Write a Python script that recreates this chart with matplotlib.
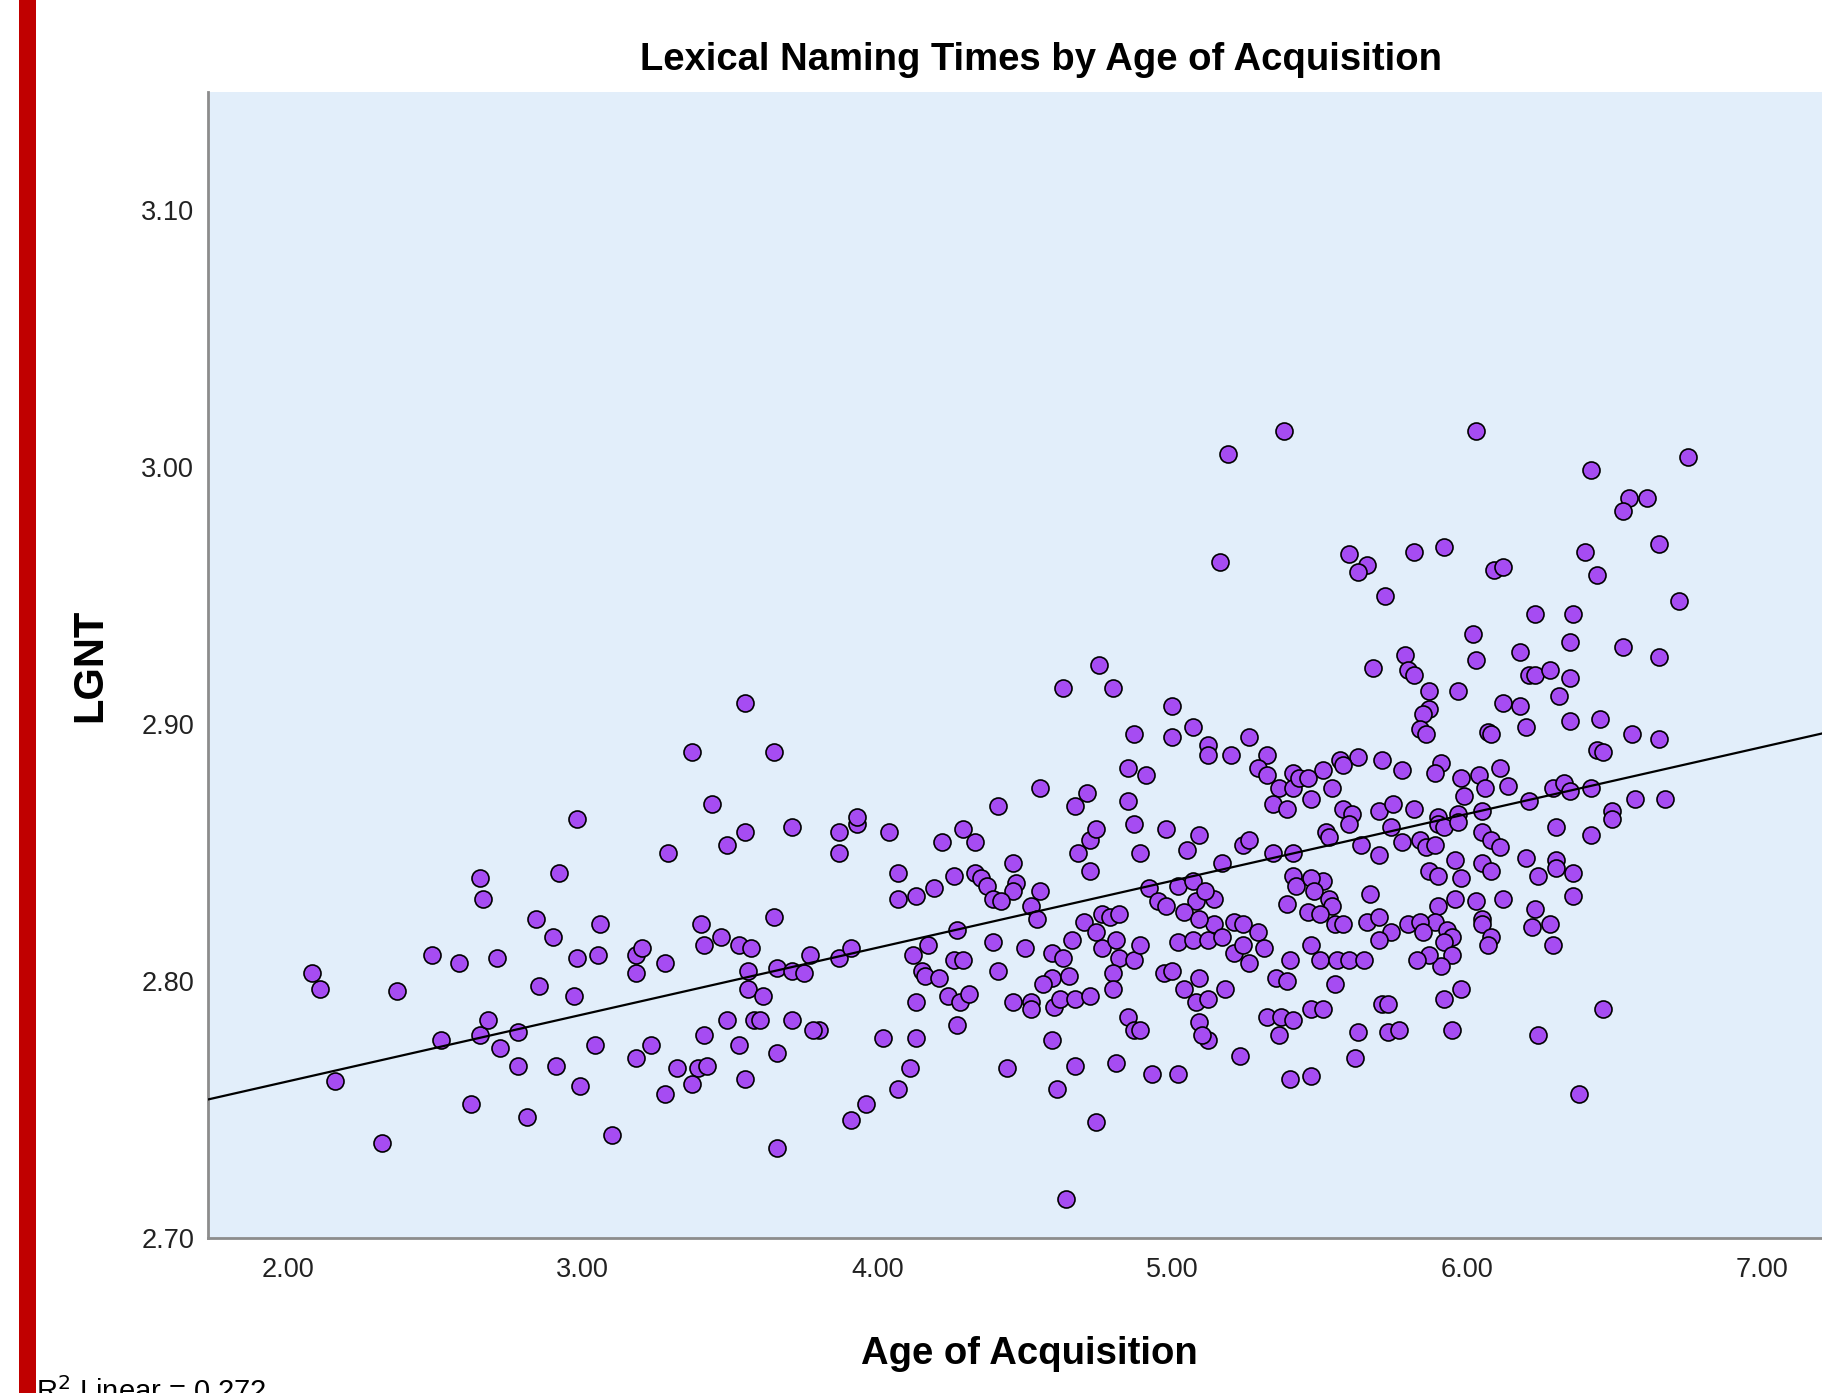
import numpy as np
import matplotlib
matplotlib.use("Agg")
from matplotlib import pyplot as plt
from matplotlib.patches import Rectangle

plt.rcParams['font.family'] = ['Liberation Sans', 'DejaVu Sans']

# age of acquisition (x) and log naming time (y)
aoa = [
    2.08, 2.11, 2.16, 2.32, 2.37, 2.49, 2.52, 2.58, 2.62, 2.65, 2.66, 2.65, 2.68, 2.71, 2.72,
    2.78, 2.78, 2.81, 2.84, 2.90, 2.85, 2.91, 2.92, 2.97, 2.98, 2.98, 2.99, 3.04, 3.05, 3.06,
    3.10, 3.18, 3.18, 3.20, 3.18, 3.23, 3.28, 3.28, 3.29, 3.32, 3.39, 3.37, 3.42, 3.40, 3.41,
    3.41, 3.47, 3.49, 3.55, 3.53, 3.57, 3.49, 3.53, 3.55, 3.56, 3.56, 3.61, 3.58, 3.60, 3.65,
    3.66, 3.71, 3.66, 3.66, 3.71, 3.71, 3.55, 3.37, 3.65, 3.44,
    # middle band
    3.87, 3.87, 3.93, 4.04, 4.22, 4.29, 4.33, 4.07, 4.07, 4.13, 4.19, 4.26, 4.33, 4.35, 4.37,
    4.46, 4.47, 4.46, 4.39, 4.42, 4.55, 4.52, 4.54, 4.68, 4.72, 4.74, 4.72, 4.87, 4.89, 4.98,
    5.09, 5.05, 5.24, 5.26, 5.34, 5.41, 4.92, 4.95, 4.98, 5.02, 5.07, 5.08, 5.04, 5.14, 5.11,
    5.17, 5.39, 5.41, 5.42, 4.70, 4.76, 4.79, 4.82, 3.77, 3.75, 3.87, 3.91, 4.17, 4.12, 4.15,
    4.16, 4.27, 4.21, 4.26, 4.29, 4.39, 4.41, 4.50, 4.59, 4.63, 4.66, 4.74, 4.76, 4.81, 4.82,
    4.87, 4.89, 5.02, 5.07, 5.12, 5.14, 5.17, 5.09, 5.21, 5.24, 5.29, 5.31, 5.21, 5.24, 5.26,
    5.40, 4.59, 4.56, 4.65, 4.80, 4.80, 4.97, 5.00, 5.35, 5.39, 5.04, 5.09, 5.08, 5.12, 5.18,
    4.13, 4.24, 4.28, 4.31, 4.27, 4.46, 4.52, 4.52, 4.60, 4.62, 4.67, 4.72, 4.85, 4.87, 4.89,
    5.09, 5.12, 5.10, 5.32, 5.37, 5.41, 5.36, 5.23, 5.40, 3.80, 3.78, 4.02, 4.13, 4.11, 4.07,
    3.96, 3.91, 4.44, 4.59, 4.61, 4.67, 4.81, 4.93, 5.02, 4.74, 4.64,
    5.38, 5.19, 5.16, 4.75, 4.63, 4.80, 5.00, 4.87, 5.00, 5.07, 5.12, 5.12, 5.20, 5.26, 5.32,
    5.29, 5.32, 5.36, 5.41, 5.41, 5.34, 5.39, 4.85, 4.91, 4.55, 4.71, 4.67, 4.85, 4.41, 3.93,
    # upper right
    6.03, 6.42, 6.75, 6.55, 6.61, 6.53, 6.65, 6.40, 6.44, 6.72, 5.60, 5.66, 5.63, 5.82, 5.92,
    6.09, 6.12, 5.72, 6.23, 6.36, 6.02, 6.35, 6.53, 6.65, 6.03, 6.18, 5.79, 5.80, 5.82, 5.68,
    5.97, 5.87, 5.87, 5.85, 6.21, 6.23, 6.28, 6.35, 6.31, 6.12, 6.18, 6.20, 5.84, 5.86, 6.07,
    6.08, 6.35, 6.45, 6.56, 6.65, 6.44, 6.46, 5.57, 5.63, 5.58, 5.71, 5.78, 5.51, 5.43, 5.46,
    5.54, 5.47, 5.91, 5.89, 5.98, 6.04, 6.06, 5.99, 6.11, 6.14, 6.29, 6.33, 6.35, 6.42, 6.21,
    6.49, 6.57, 6.67, 5.58, 5.61, 5.70, 5.75, 5.82, 5.90, 5.97, 6.05,
    # lower right
    5.52, 5.53, 5.60, 5.64, 5.70, 5.74, 5.78, 5.84, 5.86, 5.89, 5.90, 5.92, 5.97, 6.05, 6.08,
    6.11, 6.30, 6.42, 6.49, 5.96, 5.87, 5.90, 5.98, 6.05, 6.08, 6.20, 6.30, 6.30, 6.24, 6.36,
    6.36, 6.12, 5.96, 6.03, 6.05, 6.05, 6.08, 6.07, 6.23, 6.22, 6.28, 6.29, 5.90, 5.89, 5.93,
    5.95, 5.80, 5.84, 5.85, 5.92, 5.95, 5.91, 5.87, 5.83, 5.67, 5.66, 5.70, 5.74, 5.70, 5.51,
    5.47, 5.48, 5.53, 5.54, 5.46, 5.50, 5.55, 5.58, 5.47, 5.50, 5.56, 5.60, 5.65, 5.55, 5.47,
    5.51, 5.71, 5.73, 5.63, 5.62, 5.47, 5.73, 5.77, 5.92, 5.98, 5.95, 6.24, 6.46, 6.38,
]
lgnt = [
    2.803, 2.797, 2.761, 2.737, 2.796, 2.810, 2.777, 2.807, 2.752, 2.840, 2.832, 2.779, 2.785, 2.809, 2.774,
    2.780, 2.767, 2.747, 2.824, 2.817, 2.798, 2.767, 2.842, 2.794, 2.863, 2.809, 2.759, 2.775, 2.810, 2.822,
    2.740, 2.770, 2.810, 2.813, 2.803, 2.775, 2.807, 2.756, 2.850, 2.766, 2.766, 2.760, 2.767, 2.822, 2.814,
    2.779, 2.817, 2.853, 2.858, 2.814, 2.813, 2.785, 2.775, 2.762, 2.804, 2.797, 2.794, 2.785, 2.785, 2.825,
    2.805, 2.804, 2.772, 2.735, 2.785, 2.860, 2.908, 2.889, 2.889, 2.869,
    2.858, 2.850, 2.861, 2.858, 2.854, 2.859, 2.854, 2.842, 2.832, 2.833, 2.836, 2.841, 2.842, 2.840, 2.837,
    2.846, 2.838, 2.835, 2.832, 2.831, 2.835, 2.829, 2.824, 2.850, 2.855, 2.859, 2.843, 2.861, 2.850, 2.859,
    2.857, 2.851, 2.853, 2.855, 2.850, 2.850, 2.836, 2.831, 2.829, 2.837, 2.839, 2.831, 2.827, 2.832, 2.835,
    2.846, 2.830, 2.841, 2.837, 2.823, 2.826, 2.825, 2.826, 2.810, 2.803, 2.809, 2.813, 2.814, 2.810, 2.804,
    2.802, 2.820, 2.801, 2.808, 2.808, 2.815, 2.804, 2.813, 2.811, 2.809, 2.816, 2.819, 2.813, 2.816, 2.809,
    2.808, 2.814, 2.815, 2.816, 2.816, 2.822, 2.817, 2.824, 2.823, 2.822, 2.819, 2.813, 2.811, 2.814, 2.807,
    2.808, 2.801, 2.799, 2.802, 2.803, 2.797, 2.803, 2.804, 2.801, 2.800, 2.797, 2.801, 2.792, 2.793, 2.797,
    2.792, 2.794, 2.792, 2.795, 2.783, 2.792, 2.792, 2.789, 2.790, 2.793, 2.793, 2.794, 2.786, 2.781, 2.781,
    2.784, 2.777, 2.779, 2.786, 2.786, 2.785, 2.779, 2.771, 2.762, 2.781, 2.781, 2.778, 2.778, 2.766, 2.758,
    2.752, 2.746, 2.766, 2.777, 2.758, 2.767, 2.768, 2.764, 2.764, 2.745, 2.715,
    3.014, 3.005, 2.963, 2.923, 2.914, 2.914, 2.907, 2.896, 2.895, 2.899, 2.892, 2.888, 2.888, 2.895, 2.888,
    2.883, 2.880, 2.875, 2.881, 2.875, 2.869, 2.867, 2.883, 2.880, 2.875, 2.873, 2.868, 2.870, 2.868, 2.864,
    3.014, 2.999, 3.004, 2.988, 2.988, 2.983, 2.970, 2.967, 2.958, 2.948, 2.966, 2.962, 2.959, 2.967, 2.969,
    2.960, 2.961, 2.950, 2.943, 2.943, 2.935, 2.932, 2.930, 2.926, 2.925, 2.928, 2.927, 2.921, 2.919, 2.922,
    2.913, 2.913, 2.906, 2.904, 2.919, 2.919, 2.921, 2.918, 2.911, 2.908, 2.907, 2.899, 2.898, 2.896, 2.897,
    2.896, 2.901, 2.902, 2.896, 2.894, 2.890, 2.889, 2.886, 2.887, 2.884, 2.886, 2.882, 2.882, 2.879, 2.879,
    2.875, 2.871, 2.885, 2.881, 2.879, 2.880, 2.875, 2.872, 2.883, 2.876, 2.875, 2.877, 2.874, 2.875, 2.870,
    2.866, 2.871, 2.871, 2.867, 2.865, 2.866, 2.869, 2.867, 2.864, 2.865, 2.866,
    2.858, 2.856, 2.861, 2.853, 2.849, 2.860, 2.854, 2.855, 2.852, 2.853, 2.861, 2.860, 2.862, 2.858, 2.855,
    2.852, 2.860, 2.857, 2.863, 2.847, 2.843, 2.841, 2.840, 2.846, 2.843, 2.848, 2.847, 2.844, 2.841, 2.842,
    2.833, 2.832, 2.832, 2.831, 2.824, 2.822, 2.817, 2.814, 2.828, 2.821, 2.822, 2.814, 2.829, 2.823, 2.820,
    2.817, 2.822, 2.823, 2.819, 2.815, 2.810, 2.806, 2.810, 2.808, 2.834, 2.823, 2.825, 2.819, 2.816, 2.839,
    2.840, 2.835, 2.832, 2.829, 2.827, 2.826, 2.822, 2.822, 2.814, 2.808, 2.808, 2.808, 2.808, 2.799, 2.789,
    2.789, 2.791, 2.791, 2.780, 2.770, 2.763, 2.780, 2.781, 2.793, 2.797, 2.781, 2.779, 2.789, 2.756,
]

x_ticks = [2.0, 3.0, 4.0, 5.0, 6.0, 7.0]
y_ticks = [2.70, 2.80, 2.90, 3.00, 3.10]
r2_text = r"R$^2$ Linear = 0.272"

x = np.array(aoa)
y = np.array(lgnt)
slope, intercept = np.polyfit(x, y, 1)

fig = plt.figure(figsize=(18.22, 13.93), dpi=100)
ax = fig.add_axes([0.1142, 0.1113, 0.9014, 0.8227])
ax.set_facecolor('#E2EEFA')

ax.scatter(x, y, s=150, c='#A64CF2', edgecolors='black', linewidths=1.2, zorder=3)

xl = np.array([1.729, 7.30])
ax.plot(xl, intercept + slope * xl, color='black', lw=1.6, zorder=4)

ax.set_xlim(1.729, 7.30)
ax.set_ylim(2.70, 3.146)
ax.set_xticks(x_ticks)
ax.set_yticks(y_ticks)
ax.set_xticklabels(['%.2f' % t for t in x_ticks])
ax.set_yticklabels(['%.2f' % t for t in y_ticks])
ax.tick_params(length=0, labelsize=19.5, colors='#222222')
ax.tick_params(axis='x', pad=14)
ax.tick_params(axis='y', pad=10)

for pos in ['top', 'right']:
    ax.spines[pos].set_visible(False)
for pos in ['left', 'bottom']:
    ax.spines[pos].set_color('#8C8C8C')
    ax.spines[pos].set_linewidth(2)

ax.set_title('Lexical Naming Times by Age of Acquisition', fontsize=27.5,
             fontweight='bold', pad=16, x=0.507)
ax.set_xlabel('Age of Acquisition', fontsize=27.5, fontweight='bold', labelpad=38)
ax.set_ylabel('LGNT', fontsize=30, fontweight='bold', labelpad=22)

fig.text(0.0195, 0.0115, r2_text, fontsize=21, va='top', ha='left')

# red bar down the left edge
fig.patches.append(Rectangle((0.0104, 0.0), 0.0093, 1.0, transform=fig.transFigure,
                             facecolor='#C00000', edgecolor='none'))

fig.savefig('out.png', dpi=100)
